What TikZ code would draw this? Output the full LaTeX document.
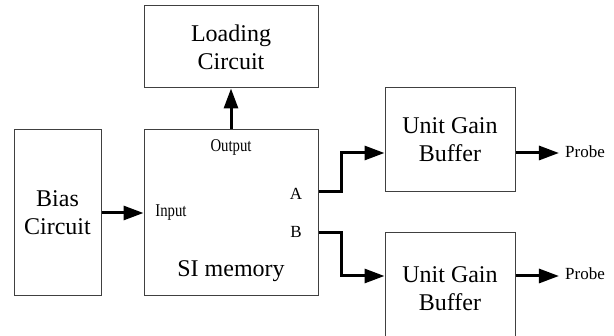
\documentclass[tikz,border=0pt]{standalone}
\usepackage{fontspec}
\setmainfont{Liberation Serif}
\newfontfamily\narrowserif[FakeStretch=0.82]{Liberation Serif}
\usetikzlibrary{arrows.meta,calc}
\begin{document}
\begin{tikzpicture}[x=1pt,y=-1pt,
  blk/.style={draw=black!75,line width=1pt,align=center,inner sep=0pt,
    font=\fontsize{24}{28}\selectfont},
  lbl/.style={inner sep=0pt,font=\narrowserif\fontsize{18}{20}\selectfont},
  port/.style={inner sep=0pt,font=\fontsize{17}{19}\selectfont},
  arr/.style={line width=3pt,-{Triangle[length=20pt,width=14pt]}}]
\useasboundingbox (0,0) rectangle (614,336);
\clip (0,0) rectangle (614,336);
\node[blk,minimum width=174pt,minimum height=82pt] (load) at (231,47) {Loading\\Circuit};
\node[blk,minimum width=174pt,minimum height=166pt] (si) at (231,213) {};
\node[blk,minimum width=87pt,minimum height=166pt] (bias) at (57.5,213) {Bias\\Circuit};
\node[blk,minimum width=130pt,minimum height=104pt] (buf1) at (450,140) {Unit Gain\\Buffer};
\node[blk,minimum width=130pt,minimum height=112pt] (buf2) at (450,289) {Unit Gain\\Buffer};
\node[lbl] (out) at (231,147) {Output};
\node[lbl] (in) at (171,213) {Input};
\node[port] (pa) at (296,194) {A};
\node[port] (pb) at (296,232) {B};
\node[blk,draw=none] (sit) at (231,271) {SI memory};
\node[port] (probe1) at (585,152) {Probe};
\node[port] (probe2) at (585,274) {Probe};
\coordinate (oa) at ($(si.east)+(0,-21)$);
\coordinate (ob) at ($(si.east)+(0,20)$);
\draw[arr] (bias.east) -- (si.west);
\draw[arr] (si.north) -- (load.south);
\draw[arr] (oa) -- ++(23,0) |- ($(buf1.west)+(0,13)$);
\draw[arr] (ob) -- ++(23,0) |- ($(buf2.west)+(0,-13)$);
\draw[arr] ($(buf1.east)+(0,13)$) -- ([xshift=-6pt]probe1.west |- 0,153);
\draw[arr] ($(buf2.east)+(0,-13)$) -- ([xshift=-6pt]probe2.west |- 0,276);
\end{tikzpicture}
\end{document}
